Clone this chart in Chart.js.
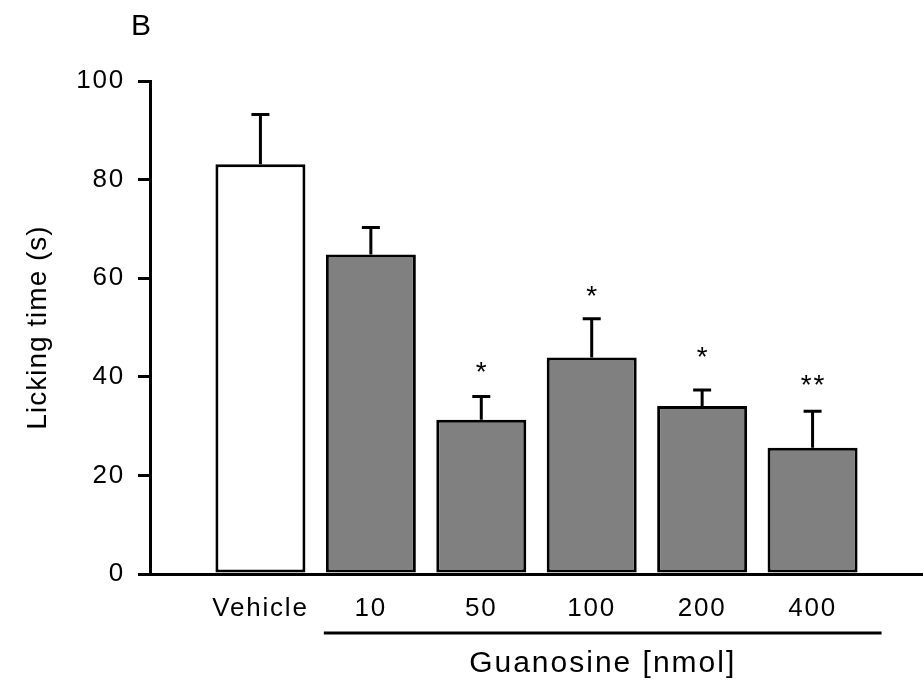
<!DOCTYPE html>
<html lang="en">
  <head>
    <meta charset="UTF-8" />
    <title>Licking time - Guanosine</title>
    <style>
      body {
        margin: 0;
        background-color: white;
      }
      #wrap {
        width: 923px;
        height: 683px;
      }
    </style>
  </head>
  <body>
    <div id="wrap"><canvas id="lickChart"></canvas></div>

    <script src="https://cdn.jsdelivr.net/npm/chart.js"></script>
    <script>
      // Grupos del eje x (los huecos vacíos dejan el margen a los lados)
      const groups = ["", "Vehicle", "10", "50", "100", "200", "400", ""];

      // Tiempo de lamido (s) y extremo superior del error
      const lickingTime = [null, 83.1, 64.8, 31.3, 43.9, 34.1, 25.6, null];
      const errorTop = [null, 93.2, 70.3, 36.0, 51.8, 37.3, 33.0, null];

      // Marcas de significancia y altura donde van
      const stars = ["", "", "", "*", "*", "*", "**", ""];
      const starLevel = [null, null, null, 41.4, 56.8, 44.4, 38.7, null];

      const yTicks = [0, 20, 40, 60, 80, 100];

      const FONT = "'Liberation Sans', Arial, sans-serif";
      const SPACING = "1.8px";

      const extras = {
        id: "extras",
        beforeLayout(chart) {
          chart.ctx.letterSpacing = SPACING;
        },
        beforeDraw(chart) {
          chart.ctx.letterSpacing = SPACING;
        },
        afterDatasetsDraw(chart) {
          const ctx = chart.ctx;
          const xs = chart.scales.x;
          const ys = chart.scales.y;
          const area = chart.chartArea;
          const bars = chart.getDatasetMeta(0).data;

          ctx.save();
          ctx.strokeStyle = "#000";
          ctx.fillStyle = "#000";
          ctx.lineWidth = 3;

          // barras de error (solo hacia arriba)
          errorTop.forEach((v, i) => {
            if (v == null) return;
            const px = xs.getPixelForValue(i);
            const top = ys.getPixelForValue(v);
            const base = ys.getPixelForValue(lickingTime[i]);
            ctx.beginPath();
            ctx.moveTo(px, base);
            ctx.lineTo(px, top);
            ctx.moveTo(px - 9, top);
            ctx.lineTo(px + 9, top);
            ctx.stroke();
          });

          // asteriscos
          ctx.font = "28px " + FONT;
          ctx.letterSpacing = "2px";
          ctx.textAlign = "center";
          ctx.textBaseline = "alphabetic";
          stars.forEach((s, i) => {
            if (!s) return;
            const px = xs.getPixelForValue(i);
            const py = ys.getPixelForValue(starLevel[i]);
            ctx.fillText(s, px + 1, py + 11);
          });

          // línea bajo las dosis de guanosina
          const first = bars[2];
          const last = bars[6];
          const lineY = area.bottom + 59;
          const x0 = first.x - first.width / 2 - 2;
          const x1 = last.x + last.width / 2 + 24;
          ctx.beginPath();
          ctx.moveTo(x0, lineY);
          ctx.lineTo(x1, lineY);
          ctx.stroke();

          ctx.font = "30px " + FONT;
          ctx.letterSpacing = "2px";
          ctx.textBaseline = "middle";
          ctx.fillText("Guanosine [nmol]", (x0 + x1) / 2, area.bottom + 90);

          // título del eje y
          ctx.font = "28px " + FONT;
          ctx.letterSpacing = "1px";
          ctx.save();
          ctx.translate(38, (area.top + area.bottom) / 2);
          ctx.rotate(-Math.PI / 2);
          ctx.fillText("Licking time (s)", 0, 0);
          ctx.restore();

          // letra del panel
          ctx.font = "30px " + FONT;
          ctx.letterSpacing = "0px";
          ctx.textAlign = "left";
          ctx.textBaseline = "alphabetic";
          ctx.fillText("B", 131, 35);

          ctx.restore();
          ctx.letterSpacing = SPACING;
        },
      };

      new Chart(document.getElementById("lickChart").getContext("2d"), {
        type: "bar",
        data: {
          labels: groups,
          datasets: [
            {
              data: lickingTime,
              backgroundColor: (c) => (c.dataIndex === 1 ? "#ffffff" : "#808080"),
              borderColor: "#000000",
              borderWidth: 3,
              borderSkipped: false,
              categoryPercentage: 1,
              barPercentage: 0.815,
            },
          ],
        },
        options: {
          responsive: true,
          maintainAspectRatio: false,
          animation: false,
          layout: { padding: { top: 81, left: 0, right: 0, bottom: 0 } },
          plugins: {
            legend: { display: false },
            tooltip: { enabled: false },
          },
          scales: {
            x: {
              offset: false,
              grid: { display: false, offset: false },
              border: { display: true, color: "#000", width: 3 },
              ticks: {
                color: "#000",
                font: { family: FONT, size: 26 },
                padding: 11,
                maxRotation: 0,
                autoSkip: false,
              },
              afterFit(scale) {
                scale.height = 109;
                scale.paddingLeft = 0;
                scale.paddingRight = 0;
              },
            },
            y: {
              min: 0,
              max: 100,
              afterBuildTicks(scale) {
                scale.ticks = yTicks.map((v) => ({ value: v }));
              },
              grid: {
                drawOnChartArea: false,
                drawTicks: true,
                tickLength: 12,
                color: "#000",
                lineWidth: 3,
              },
              border: { display: true, color: "#000", width: 3 },
              ticks: {
                color: "#000",
                font: { family: FONT, size: 26 },
                padding: 13,
              },
              afterFit(scale) {
                scale.width = 150;
              },
            },
          },
        },
        plugins: [extras],
      });
    </script>
  </body>
</html>
